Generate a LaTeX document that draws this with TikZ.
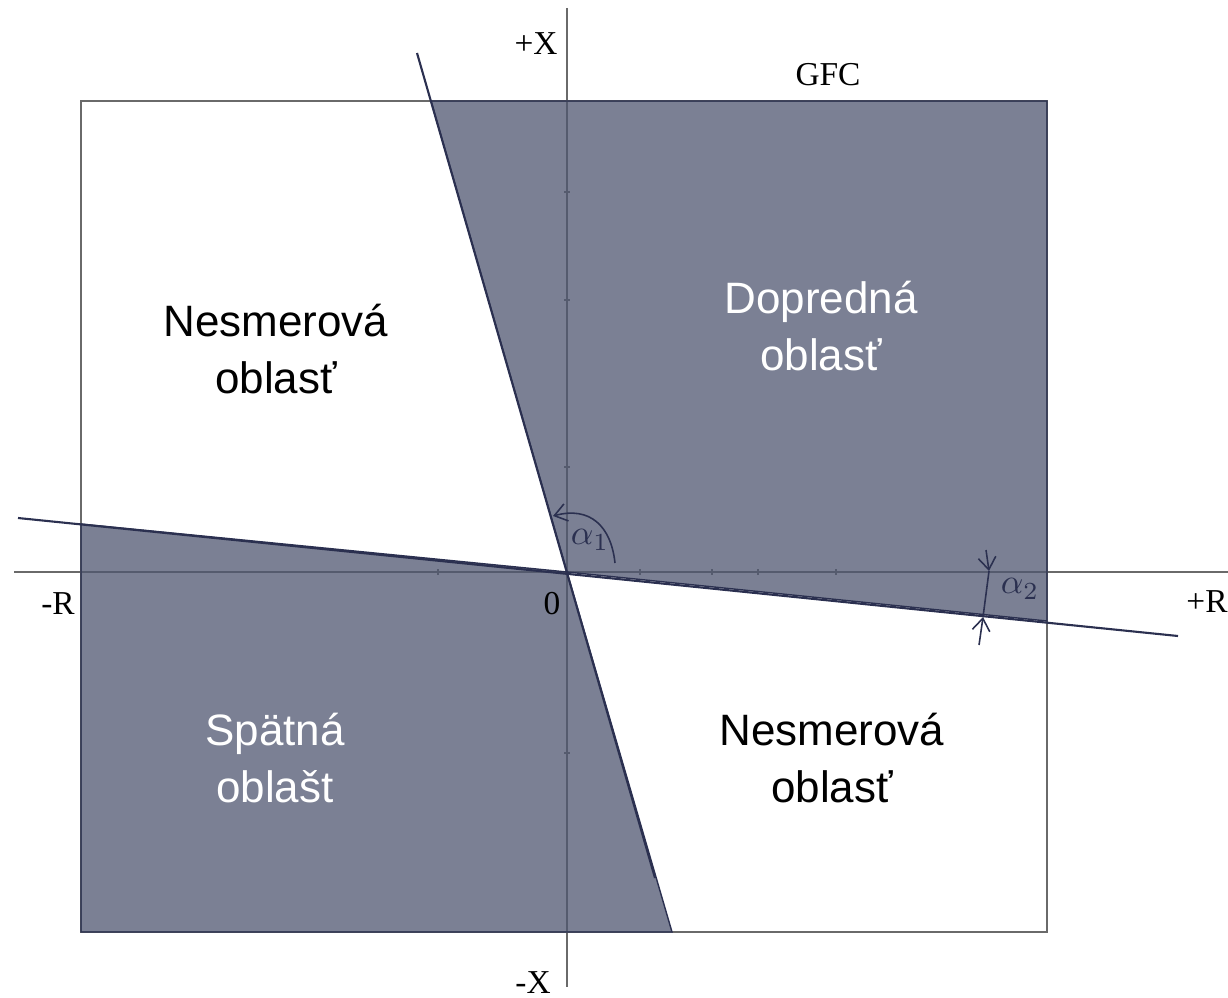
\documentclass[tikz,border=0pt]{standalone}
\usepackage{fontspec}
\setmainfont{Liberation Serif}
\newfontfamily\regionfont{Liberation Sans}
\usetikzlibrary{arrows.meta}
\definecolor{Shade}{HTML}{4F5670}
\definecolor{Edge}{HTML}{2B3050}
\definecolor{AxisGray}{HTML}{6A6A6A}

\begin{document}
\begin{tikzpicture}[x=0.01cm, y=-0.01cm, >={Straight Barb[length=3.5pt,width=5pt]},
  axis/.style={AxisGray, line width=0.5pt},
  zone/.style={fill=Shade, fill opacity=0.75, draw=Edge, line width=0.4pt},
  limit/.style={Edge, line width=0.6pt},
  tag/.style={font=\fontsize{9.5}{11}\selectfont, inner sep=0pt},
  region/.style={font=\regionfont\fontsize{12.5}{16.2}\selectfont, align=center, inner sep=0pt}]
  \useasboundingbox (0,0) rectangle (1228,997);

  % corner points and line ends
  \coordinate (O) at (567,572);
  \coordinate (tl) at (81,101);
  \coordinate (tr) at (1047,101);
  \coordinate (br) at (1047,932);
  \coordinate (bl) at (81,932);
  \coordinate (steepTop) at (417,53);
  \coordinate (steepRim) at (431,101);
  \coordinate (steepEnd) at (655,878);
  \coordinate (steepBot) at (672,932);
  \coordinate (flatLeft) at (18,518);
  \coordinate (flatRim) at (81,524);
  \coordinate (flatEdge) at (1047,621);
  \coordinate (flatRight) at (1178,636);

  % GFC box and axes
  \draw[axis] (tl) rectangle (br);
  \draw[axis] (14,572) -- (1228,572);
  \draw[axis] (567,8) -- (567,987);
  \foreach \t in {438,640,712,758,836} \draw[axis] (\t,569) -- (\t,575);
  \foreach \t in {192,300,467,753} \draw[axis] (564,\t) -- (570,\t);

  % shaded zones
  \filldraw[zone] (steepRim) -- (tr) -- (flatEdge) -- (O) -- cycle;
  \filldraw[zone] (flatRim) -- (O) -- (steepBot) -- (bl) -- cycle;

  % boundary lines
  \draw[limit] (steepTop) -- (steepEnd);
  \draw[limit] (flatLeft) -- (flatRight);

  % angle marks
  \draw[->, Edge, line width=0.45pt] (615,563) .. controls (611,526) and (590,506) .. (553,516);
  \coordinate (a2top) at (989,571);
  \coordinate (a2bot) at (983,617);
  \draw[->, Edge, line width=0.45pt] (986,550) -- (a2top);
  \draw[Edge, line width=0.45pt] (a2top) -- (a2bot);
  \draw[->, Edge, line width=0.45pt] (979,645) -- (a2bot);

  % labels
  \node[tag] (px) at (536,44) {+X};
  \node[tag] (mx) at (533,983) {-X};
  \node[tag] (pr) at (1207,602) {+R};
  \node[tag] (mr) at (58,604) {-R};
  \node[tag] (zero) at (552,604) {0};
  \node[tag] (gfc) at (828,75) {GFC};
  \node[inner sep=0pt, Edge] (a1) at (590,540) {$\alpha_1$};
  \node[inner sep=0pt, Edge] (a2) at (1020,589) {$\alpha_2$};

  \node[region] (nesUp) at (276,349) {Nesmerová\\oblasť};
  \node[region, white] (dopred) at (821,326) {Dopredná\\oblasť};
  \node[region, white] (spat) at (275,758) {Spätná\\oblašt};
  \node[region] (nesDown) at (832,758) {Nesmerová\\oblasť};
\end{tikzpicture}
\end{document}
